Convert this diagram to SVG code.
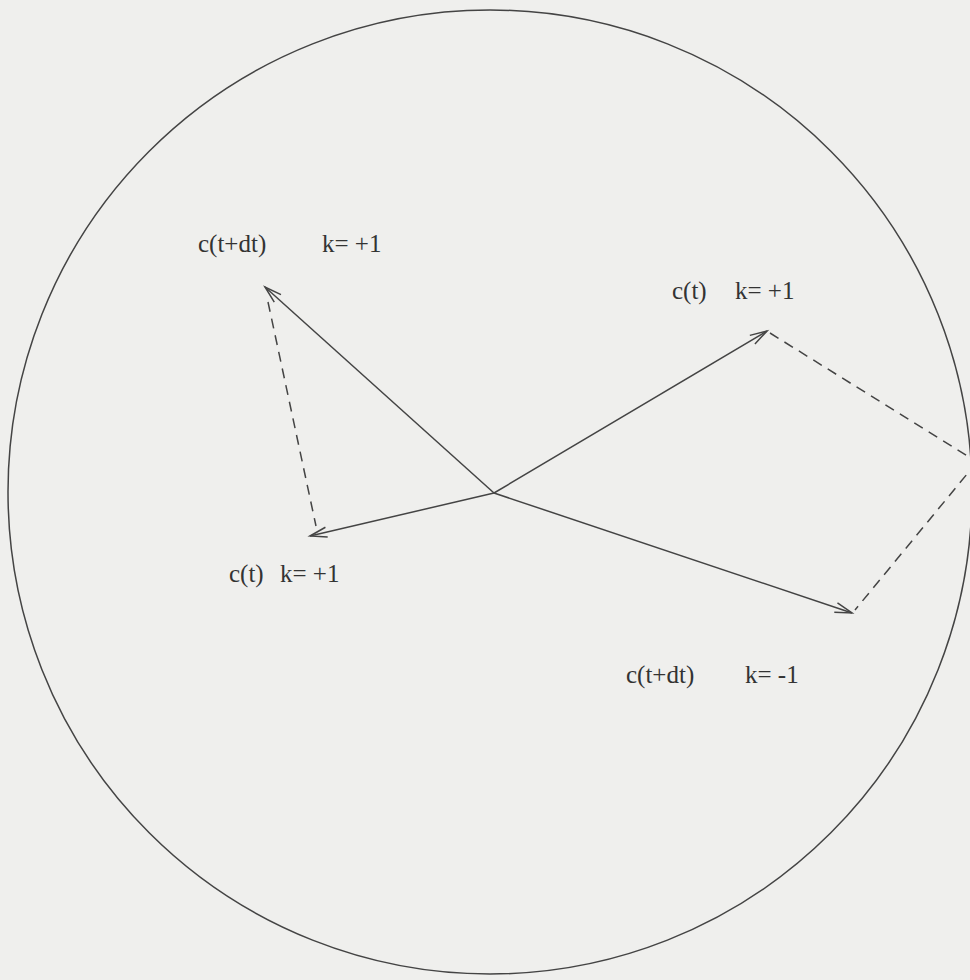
<svg xmlns="http://www.w3.org/2000/svg" width="970" height="980" viewBox="0 0 970 980">
<defs>
<style>
.bg{fill:#efefed}
.ln{stroke:#444;stroke-width:1.5;fill:none}
.dash{stroke:#444;stroke-width:1.5;fill:none;stroke-dasharray:10 7}
.lbl{font-family:"Liberation Serif","Times New Roman",serif;font-size:25px;fill:#333}
</style>
<marker id="arr" markerUnits="userSpaceOnUse" markerWidth="24" markerHeight="16" viewBox="-20 -8 24 16" refX="0" refY="0" orient="auto">
<path d="M-17,-5 L0,0 L-17,5" fill="none" stroke="#444" stroke-width="1.5"/>
</marker>
</defs>
<rect class="bg" x="0" y="0" width="970" height="980"/>
<g id="circle">
<circle class="ln" cx="490" cy="492" r="482"/>
</g>
<g id="connectors">
<line class="ln" x1="494" y1="493" x2="265" y2="287" marker-end="url(#arr)"/>
<line class="ln" x1="494" y1="493" x2="310" y2="536" marker-end="url(#arr)"/>
<line class="ln" x1="494" y1="493" x2="767" y2="331" marker-end="url(#arr)"/>
<line class="ln" x1="494" y1="493" x2="852" y2="613" marker-end="url(#arr)"/>
<line class="dash" x1="268" y1="302" x2="316" y2="526"/>
<line class="dash" x1="770" y1="333" x2="977" y2="462"/>
<line class="dash" x1="977" y1="462" x2="855" y2="610"/>
</g>
<g id="label-tl">
<text class="lbl" x="198" y="252">c(t+dt)</text>
<text class="lbl" x="322" y="252">k= +1</text>
</g>
<g id="label-tr">
<text class="lbl" x="672" y="299">c(t)</text>
<text class="lbl" x="735" y="299">k= +1</text>
</g>
<g id="label-bl">
<text class="lbl" x="229" y="582">c(t)</text>
<text class="lbl" x="280" y="582">k= +1</text>
</g>
<g id="label-br">
<text class="lbl" x="626" y="683">c(t+dt)</text>
<text class="lbl" x="745" y="683">k= -1</text>
</g>
</svg>
